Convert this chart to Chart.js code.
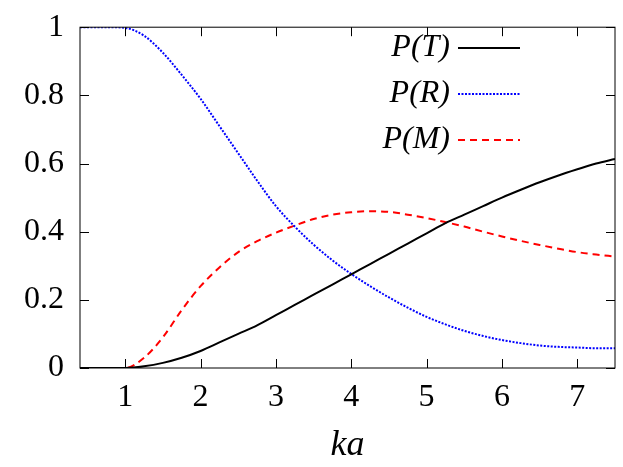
<!DOCTYPE html>
<html>
<head>
<meta charset="utf-8">
<script src="https://cdn.jsdelivr.net/npm/chart.js@4"></script>
<style>
  html, body { margin: 0; padding: 0; background: #fff; }
  #wrap { width: 623px; height: 467px; }
</style>
</head>
<body>
<div id="wrap"><canvas id="chart"></canvas></div>
<script>
// data
const ka = [0.4, 0.6, 0.8, 1.0, 1.25, 1.5, 1.75, 2, 2.25, 2.5, 2.75, 3, 3.25, 3.5, 3.75, 4, 4.25, 4.5, 4.75, 5, 5.25, 5.5, 5.75, 6, 6.25, 6.5, 6.75, 7, 7.25, 7.5];
const pT = [0, 0, 0, 0, 0.005, 0.015, 0.03, 0.05, 0.075, 0.1, 0.125, 0.155, 0.185, 0.215, 0.245, 0.275, 0.305, 0.335, 0.365, 0.395, 0.425, 0.45, 0.475, 0.5, 0.523, 0.545, 0.565, 0.583, 0.6, 0.613];
const pR = [1, 1, 1, 0.998, 0.975, 0.925, 0.86, 0.79, 0.71, 0.63, 0.55, 0.475, 0.415, 0.362, 0.316, 0.276, 0.24, 0.207, 0.177, 0.15, 0.128, 0.109, 0.094, 0.082, 0.073, 0.066, 0.062, 0.06, 0.058, 0.058];
const pM = [0, 0, 0, 0, 0.03, 0.09, 0.17, 0.24, 0.295, 0.34, 0.372, 0.397, 0.418, 0.437, 0.45, 0.457, 0.46, 0.458, 0.45, 0.44, 0.428, 0.415, 0.4, 0.386, 0.373, 0.361, 0.35, 0.34, 0.333, 0.327];
const xTicks = [1, 2, 3, 4, 5, 6, 7];
const yTicks = [0, 0.2, 0.4, 0.6, 0.8, 1];
const names = ['P(T)', 'P(R)', 'P(M)'];

const serif = '"Liberation Serif", "DejaVu Serif", serif';

function pts(ys) {
  return ka.map((x, i) => ({x: x, y: ys[i]}));
}

// frame, inward ticks and the legend (gnuplot style)
const framePlugin = {
  id: 'frame',
  afterDraw(chart) {
    const {ctx, chartArea: a, scales} = chart;
    ctx.save();
    ctx.strokeStyle = '#000';
    ctx.lineWidth = 1;
    ctx.strokeRect(a.left, a.top, a.right - a.left, a.bottom - a.top);
    ctx.beginPath();
    xTicks.forEach(v => {
      const x = Math.round(scales.x.getPixelForValue(v)) + 0.5;
      ctx.moveTo(x, a.bottom); ctx.lineTo(x, a.bottom - 9);
      ctx.moveTo(x, a.top); ctx.lineTo(x, a.top + 9);
    });
    yTicks.forEach(v => {
      const y = Math.round(scales.y.getPixelForValue(v)) + 0.5;
      ctx.moveTo(a.left, y); ctx.lineTo(a.left + 9, y);
      ctx.moveTo(a.right, y); ctx.lineTo(a.right - 9, y);
    });
    ctx.stroke();

    ctx.font = 'italic 32px ' + serif;
    ctx.textAlign = 'right';
    ctx.textBaseline = 'middle';
    chart.data.datasets.forEach((ds, i) => {
      const y = 48 + i * 46;
      ctx.fillStyle = '#000';
      ctx.fillText(names[i], 450, y);
      ctx.strokeStyle = ds.borderColor;
      ctx.lineWidth = ds.borderWidth;
      ctx.setLineDash(ds.borderDash || []);
      ctx.beginPath();
      ctx.moveTo(458, y); ctx.lineTo(520, y);
      ctx.stroke();
    });
    ctx.restore();
  }
};

new Chart(document.getElementById('chart'), {
  type: 'line',
  data: {
    datasets: [
      {label: names[0], data: pts(pT), borderColor: '#000', borderWidth: 2},
      {label: names[1], data: pts(pR), borderColor: '#0000ff', borderWidth: 2, borderDash: [2, 1.5]},
      {label: names[2], data: pts(pM), borderColor: '#ff0000', borderWidth: 2, borderDash: [7, 5]}
    ]
  },
  options: {
    animation: false,
    responsive: true,
    maintainAspectRatio: false,
    elements: {point: {radius: 0}, line: {cubicInterpolationMode: 'monotone'}},
    layout: {padding: {top: 22, right: 8, left: 0, bottom: 0}},
    plugins: {legend: {display: false}, tooltip: {enabled: false}},
    scales: {
      x: {
        type: 'linear', min: 0.4, max: 7.5,
        grid: {display: false}, border: {display: false},
        afterBuildTicks: s => { s.ticks = xTicks.map(v => ({value: v})); },
        afterFit: s => { s.height = 99; },
        ticks: {color: '#000', font: {family: serif, size: 32}, padding: 2, maxRotation: 0},
        title: {display: true, text: 'ka', color: '#000', padding: 0, font: {family: serif, size: 36, style: 'italic'}}
      },
      y: {
        min: 0, max: 1,
        grid: {display: false}, border: {display: false},
        afterBuildTicks: s => { s.ticks = yTicks.map(v => ({value: v})); },
        afterFit: s => { s.width = 80; },
        ticks: {color: '#000', font: {family: serif, size: 32}, padding: 8, callback: v => String(v)}
      }
    }
  },
  plugins: [framePlugin]
});
</script>
</body>
</html>
